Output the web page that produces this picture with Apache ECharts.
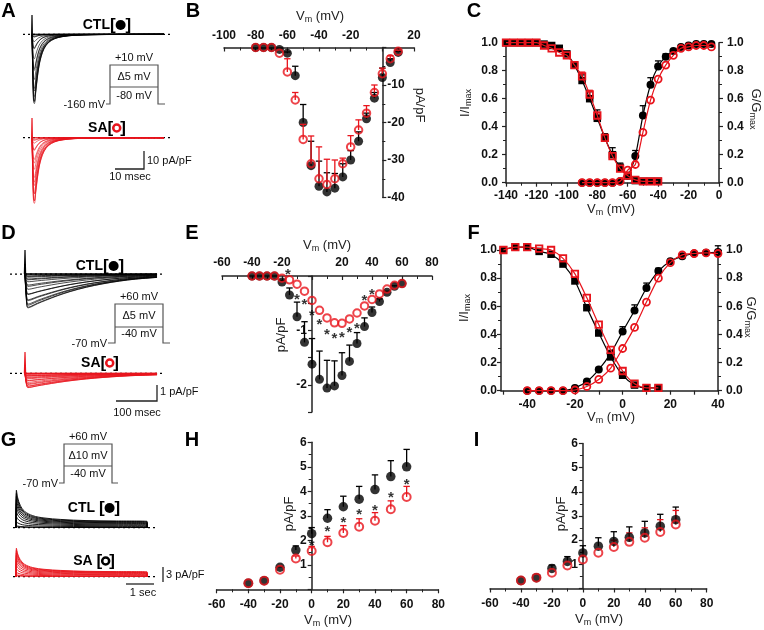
<!DOCTYPE html>
<html><head><meta charset="utf-8">
<script src="https://cdn.jsdelivr.net/npm/echarts@6.0.0/dist/echarts.min.js"></script>
<style>html,body{margin:0;padding:0;background:#fff}#c{width:764px;height:630px}</style>
</head><body><div id="c"></div>
<script>
const FONT = '"Liberation Sans", Arial, Helvetica, sans-serif';
const RED = '#e8141c';
const BLK = '#000000';

// ---------- Panel B: peak I–V (pA/pF) ----------
const vB = [-80,-75,-70,-65,-60,-55,-50,-45,-40,-35,-30,-25,-20,-15,-10,-5,0,5,10];
const ctlB = [0,0,0,-0.5,-1.5,-7.5,-20,-31.5,-37,-38.5,-37.5,-34.5,-30,-25,-19,-13.5,-8,-4,-1.3];
const semCtlB = [0,0,0,0,0.3,2.5,4.8,6.5,6.7,5.1,3.9,3.5,2.5,2.5,1.5,1.5,2.5,1,0.3];
const saB = [0,0,0,-1.5,-6.5,-14,-24.5,-31,-35,-36.5,-35,-31,-26.5,-22,-17.5,-12,-7,-3,-1];
const semSaB = [0,0,0,0,3.5,2,4,7.4,8.5,6.7,5,1.5,3,2.7,2,2,1.5,0.8,0.3];

// ---------- Panel C: inactivation (I/Imax) & activation (G/Gmax) ----------
const vCi = [-140,-135,-130,-125,-120,-115,-110,-105,-100,-95,-90,-85,-80,-75,-70,-65,-60,-55,-50,-45,-40];
const ctlCi = [1.0,1.0,1.0,1.0,1.0,0.99,0.98,0.96,0.92,0.84,0.73,0.60,0.46,0.32,0.20,0.11,0.05,0.015,0.01,0.01,0.01];
const semCtlCi = [0,0,0,0,0,0,0,0,0.01,0.02,0.04,0.05,0.06,0.03,0.05,0.03,0,0,0,0,0];
const saCi = [1.0,1.0,1.0,1.0,1.0,0.98,0.96,0.93,0.91,0.84,0.76,0.63,0.48,0.32,0.19,0.10,0.05,0.02,0.01,0.01,0.01];
const semSaCi = [0,0,0,0,0,0,0,0,0,0.01,0.03,0.03,0.01,0.01,0,0,0,0,0,0,0];
const vCa = [-90,-85,-80,-75,-70,-65,-60,-55,-50,-45,-40,-35,-30,-25,-20,-15,-10,-5];
const ctlCa = [0,0,0,0,0,0.01,0.05,0.19,0.48,0.70,0.83,0.90,0.94,0.97,0.98,0.99,0.99,0.99];
const semCtlCa = [0,0,0,0,0,0,0,0.04,0.07,0.05,0.04,0.02,0.01,0,0,0,0,0];
const saCa = [0,0,0,0,0,0.01,0.09,0.13,0.36,0.59,0.74,0.84,0.91,0.96,0.97,0.98,0.98,0.97];

// ---------- Panel E: peak I–V (pA/pF) ----------
const vE = [-40,-35,-30,-25,-20,-15,-10,-5,0,5,10,15,20,25,30,35,40,45,50,55,60];
const ctlE = [0,0,0,0,-0.11,-0.35,-0.75,-1.22,-1.62,-1.9,-2.06,-2.02,-1.83,-1.57,-1.24,-0.93,-0.67,-0.47,-0.3,-0.19,-0.14];
const semCtlE = [0,0,0,0,0.03,0.13,0.27,0.38,0.47,0.52,0.51,0.46,0.42,0.3,0.2,0.16,0.1,0.05,0.02,0.01,0];
const saE = [0,0,0,0,-0.04,-0.07,-0.15,-0.28,-0.45,-0.63,-0.77,-0.86,-0.87,-0.79,-0.68,-0.55,-0.43,-0.33,-0.24,-0.17,-0.14];
const starsE = [[-16,0.1],[-10,-0.36],[-5,-0.45],[0,-0.66],[5,-0.82],[10,-1.0],[15,-1.09],[20,-1.07],[25,-0.98],[30,-0.89],[35,-0.38],[40,-0.28]];

// ---------- Panel F ----------
const vFi = [-50,-45,-40,-35,-30,-25,-20,-15,-10,-5,0,5,10,15];
const ctlFi = [1.0,1.02,1.02,0.99,0.97,0.90,0.78,0.59,0.41,0.24,0.11,0.04,0.02,0.02];
const saFi = [1.0,1.02,1.02,1.01,1.0,0.94,0.83,0.66,0.47,0.29,0.14,0.05,0.02,0.02];
const vFa = [-40,-35,-30,-25,-20,-15,-10,-5,0,5,10,15,20,25,30,35,40];
const ctlFa = [0,0,0,0,0.02,0.065,0.15,0.265,0.42,0.57,0.73,0.85,0.92,0.955,0.975,0.98,0.985];
const semCtlFa = [0,0,0,0,0,0,0.01,0.02,0.035,0.04,0.035,0.02,0,0,0,0,0.045];
const saFa = [0,0,0,0,0.005,0.03,0.08,0.16,0.30,0.45,0.63,0.80,0.91,0.965,0.975,0.98,0.975];
const ticksFx = [-40,-20,0,20,40];

// ---------- Panels H, I ----------
const vH = [-40,-30,-20,-10,0,10,20,30,40,50,60];
const ctlH = [0.25,0.35,0.9,1.6,2.27,2.9,3.37,3.68,4.07,4.6,5.0];
const semCtlH = [0,0,0.02,0.17,0.25,0.35,0.43,0.52,0.6,0.65,0.71];
const saH = [0.25,0.35,0.8,1.26,1.56,1.92,2.3,2.55,2.8,3.27,3.77];
const semSaH = [0,0,0,0.1,0.19,0.24,0.3,0.33,0.33,0.34,0.43];
const starsH = [[0,1.95],[10,2.49],[20,2.86],[30,3.2],[40,3.37],[50,3.88],[60,4.42]];
const ctlI = [0.33,0.45,0.83,1.12,1.47,1.75,1.95,2.12,2.3,2.58,2.85];
const semCtlI = [0,0,0.14,0.2,0.3,0.35,0.4,0.43,0.48,0.49,0.52];
const saI = [0.33,0.45,0.65,0.95,1.2,1.48,1.72,1.93,2.1,2.34,2.65];
const semSaI = [0,0,0,0,0,0,0.28,0.37,0.41,0.51,0.58];

// ---------- Current traces (A, D, G) ----------
const tA0 = 3.0;
const shapeAT = [0,0.25,0.5,0.8,1.2,1.7,2.3,3.0,4.0,5.5,7.5,10,14,20,30,44];
const shapeAF = [0,0.55,0.97,1.0,0.86,0.66,0.47,0.33,0.21,0.12,0.065,0.035,0.015,0.006,0.002,0];
const spikeA = {ctl: 10.7, sa: 10.9};
const baseA = [0, 49];
const tD0 = 36.6;
const shapeDT = [0,3,7,15,30,50,80,110,150,190,230,270,322];
const shapeDF = [0,0.7,1.0,0.97,0.88,0.78,0.64,0.52,0.39,0.29,0.21,0.15,0.1];
const spikeD = {ctl: 1.46, sa: 1.3};
const baseD = [0, 373];
const tG0 = 0.107;
const shapeGT = [0,0.015,0.06,0.15,0.3,0.6,1.0,1.6,2.5,3.5,4.68,4.69];
const shapeGF = [0,1.0,0.8,0.6,0.44,0.32,0.26,0.22,0.19,0.18,0.17,0];
const ampGctl = [0.2,0.4,1.2,2.2,3.2,4.1,4.9,5.6,6.3,6.9,7.5];
const ampGsa = [0.2,0.4,0.9,1.6,2.3,3.0,3.7,4.3,4.8,5.3,5.7];
const baseG = [0, 5.14];

// ================= build =================
const pairs = (xs, ys) => xs.map((x, i) => [x, ys[i]]);
const grids = [
  {left:224, top:47.5, width:190, height:150},      // 0 B
  {left:506, top:42.7, width:213, height:140},      // 1 C
  {left:222, top:276, width:210, height:136},       // 2 E
  {left:501, top:250, width:217, height:140.7},     // 3 F
  {left:216.7, top:442.3, width:221.6, height:147}, // 4 H
  {left:490, top:443.5, width:216.7, height:145},   // 5 I
  {left:23, top:10, width:147, height:99},          // 6 A ctl
  {left:23, top:113.4, width:147, height:99},       // 7 A sa
  {left:10, top:247.8, width:153, height:64},       // 8 D ctl
  {left:10, top:347.1, width:153, height:64},       // 9 D sa
  {left:13, top:485.2, width:152, height:50.5},     // 10 G ctl
  {left:13, top:534.2, width:152, height:50.5}      // 11 G sa
].map(g => Object.assign({containLabel:false, outerBoundsMode:'none'}, g));

const LINE = {show:true, onZero:false, lineStyle:{color:'#222', width:1.5}};
const TICK = (inside) => ({show:true, inside:!!inside, length:4, lineStyle:{color:'#222', width:1.2}});
const MINOR = {show:true, splitNumber:2, length:3, lineStyle:{color:'#222', width:1}};
const LAB = (fmt, margin) => ({show:true, fontSize:12, fontWeight:'bold', color:'#111', fontFamily:FONT, margin:margin, formatter:fmt, showMinLabel:true, showMaxLabel:true});
const noZero = v => (v === 0 ? '' : String(v));
const oneDec = v => v.toFixed(1);
const hidden = (g, min, max) => ({gridIndex:g, type:'value', min:min, max:max, show:false});
const zeroOff = (g, min, max, side) => {
  const gr = grids[g], px = gr.width * (0 - min) / (max - min);
  return side === 'left' ? -px : -(gr.width - px);
};

const xAxis = [
  {gridIndex:0, type:'value', min:-100, max:20, interval:20, position:'top', axisLine:LINE, axisTick:TICK(true), minorTick:MINOR, axisLabel:LAB(noZero,6), splitLine:{show:false}},
  {gridIndex:1, type:'value', min:-140, max:0, interval:20, position:'bottom', axisLine:LINE, axisTick:TICK(false), minorTick:MINOR, axisLabel:LAB(null,7), splitLine:{show:false}},
  {gridIndex:2, type:'value', min:-60, max:80, interval:20, position:'top', axisLine:LINE, axisTick:TICK(true), minorTick:MINOR, axisLabel:LAB(noZero,7), splitLine:{show:false}},
  {gridIndex:3, type:'value', min:-51, max:40, position:'bottom', axisLine:LINE,
    axisTick:Object.assign(TICK(false), {customValues:[-50,-40,-30,-20,-10,0,10,20,30,40]}),
    axisLabel:{show:false}, splitLine:{show:false}},
  {gridIndex:4, type:'value', min:-60, max:80, interval:20, position:'bottom', axisLine:LINE, axisTick:TICK(false), minorTick:MINOR, axisLabel:LAB(null,9), splitLine:{show:false}},
  {gridIndex:5, type:'value', min:-60, max:80, interval:20, position:'bottom', axisLine:LINE, axisTick:TICK(false), minorTick:MINOR, axisLabel:LAB(null,9), splitLine:{show:false}},
  hidden(6, 0, 49), hidden(7, 0, 49),
  hidden(8, 0, 373.17), hidden(9, 0, 373.17),
  hidden(10, 0, 5.4286), hidden(11, 0, 5.4286)
];
const yAxis = [
  {gridIndex:0, type:'value', min:-40, max:0, interval:10, position:'right', offset:zeroOff(0,-100,20,'right'), axisLine:LINE, axisTick:TICK(false), minorTick:MINOR, axisLabel:LAB(noZero,5), splitLine:{show:false}},
  {gridIndex:1, type:'value', min:0, max:1, interval:0.2, position:'left', axisLine:LINE, axisTick:TICK(false), minorTick:MINOR, axisLabel:LAB(oneDec,8), splitLine:{show:false}},
  {gridIndex:2, type:'value', min:-2.5, max:0, interval:0.5, position:'left', offset:zeroOff(2,-60,80,'left'), axisLine:LINE, axisTick:TICK(false), axisLabel:LAB(v => (v === -1 || v === -2) ? String(v) : '', 5), splitLine:{show:false}},
  {gridIndex:3, type:'value', min:0, max:1, interval:0.2, position:'left', axisLine:LINE, axisTick:TICK(false), minorTick:MINOR, axisLabel:LAB(oneDec,4), splitLine:{show:false}},
  {gridIndex:4, type:'value', min:0, max:6, interval:1, position:'left', offset:zeroOff(4,-60,80,'left'), axisLine:LINE, axisTick:TICK(false), minorTick:MINOR, axisLabel:LAB(noZero,5), splitLine:{show:false}},
  {gridIndex:5, type:'value', min:0, max:6, interval:1, position:'left', offset:zeroOff(5,-60,80,'left'), axisLine:LINE, axisTick:TICK(false), minorTick:MINOR, axisLabel:LAB(noZero,5), splitLine:{show:false}},
  hidden(6, -41.5, 13.5), hidden(7, -41.5, 13.5),
  hidden(8, -2.3, 1.6), hidden(9, -2.3, 1.6),
  hidden(10, -1.6, 8.5), hidden(11, -1.6, 8.5),
  {gridIndex:1, type:'value', min:0, max:1, interval:0.2, position:'right', axisLine:LINE, axisTick:TICK(false), minorTick:MINOR, axisLabel:LAB(oneDec,8), splitLine:{show:false}},  // 12 C right
  {gridIndex:3, type:'value', min:0, max:1, interval:0.2, position:'right', axisLine:LINE, axisTick:TICK(false), minorTick:MINOR, axisLabel:LAB(oneDec,8), splitLine:{show:false}}   // 13 F right
];

const series = [];
function err(xi, yi, xs, ys, sems, color, z) {
  const data = [];
  xs.forEach((x, i) => { if (sems[i] > 0) data.push([x, ys[i], ys[i] + sems[i]]); });
  series.push({
    type:'custom', xAxisIndex:xi, yAxisIndex:yi, z:z, silent:true, data:data, clip:false,
    encode:{x:0, y:1},
    renderItem:(params, api) => {
      const p0 = api.coord([api.value(0), api.value(1)]);
      const p1 = api.coord([api.value(0), api.value(2)]);
      const st = {stroke:color, lineWidth:1.3};
      return {type:'group', children:[
        {type:'line', shape:{x1:p0[0], y1:p0[1], x2:p1[0], y2:p1[1]}, style:st},
        {type:'line', shape:{x1:p1[0]-3.2, y1:p1[1], x2:p1[0]+3.2, y2:p1[1]}, style:st}
      ]};
    }
  });
}
function dots(xi, yi, xs, ys, size, z) {
  series.push({type:'scatter', xAxisIndex:xi, yAxisIndex:yi, z:z, silent:true, clip:false, data:pairs(xs, ys),
    symbol:'circle', symbolSize:size, itemStyle:{color:BLK}});
}
function rings(xi, yi, xs, ys, size, z) {
  series.push({type:'scatter', xAxisIndex:xi, yAxisIndex:yi, z:z, silent:true, clip:false, data:pairs(xs, ys),
    symbol:'circle', symbolSize:size, itemStyle:{color:'rgba(0,0,0,0)', borderColor:RED, borderWidth:2}});
}
function fitLine(xi, yi, xs, ys, color, sym, filled, size, z) {
  series.push({type:'line', xAxisIndex:xi, yAxisIndex:yi, z:z, silent:true, clip:false, data:pairs(xs, ys),
    symbol:sym, symbolSize:size, showSymbol:true, smooth:0.25,
    lineStyle:{color:color, width:1.2},
    itemStyle: filled ? {color:color} : {color:'rgba(0,0,0,0)', borderColor:color, borderWidth:1.8}});
}
function stars(xi, yi, pts, size) {
  series.push({type:'scatter', xAxisIndex:xi, yAxisIndex:yi, z:6, silent:true, clip:false, data:pts,
    symbol:'circle', symbolSize:1, itemStyle:{color:'rgba(0,0,0,0)'},
    label:{show:true, position:'inside', formatter:'*', fontSize:size, fontWeight:'bold', color:'#000', fontFamily:FONT, offset:[0, 4]}});
}
function traces(gi, t0, shT, shF, peaks, color, lw) {
  peaks.forEach(p => series.push({type:'line', xAxisIndex:gi, yAxisIndex:gi, z:3, silent:true,
    data: shT.map((t, k) => [t0 + t, p * shF[k]]), showSymbol:false, symbol:'none', smooth:0.35,
    lineStyle:{color:color, width:lw}}));
}
function baseline(gi, range) {
  series.push({type:'line', xAxisIndex:gi, yAxisIndex:gi, z:2, silent:true, data:[[range[0],0],[range[1],0]],
    showSymbol:false, symbol:'none', lineStyle:{color:'#000', width:1.3, type:[2,3]}});
}
function spike(gi, t0, h, dt, color) {
  series.push({type:'line', xAxisIndex:gi, yAxisIndex:gi, z:4, silent:true,
    data:[[t0 - dt, 0],[t0, h],[t0 + dt, 0]], showSymbol:false, symbol:'none', lineStyle:{color:color, width:1.2}});
}

// B
err(0,0, vB, ctlB, semCtlB, BLK, 3); dots(0,0, vB, ctlB, 9, 4);
err(0,0, vB, saB, semSaB, RED, 5); rings(0,0, vB, saB, 7.5, 6);
// C
err(1,1, vCi, ctlCi, semCtlCi, BLK, 3); err(1,1, vCi, saCi, semSaCi, RED, 3);
err(1,12, vCa, ctlCa, semCtlCa, BLK, 3);
fitLine(1,1, vCi, ctlCi, BLK, 'rect', true, 7.5, 4);
fitLine(1,1, vCi, saCi, RED, 'rect', false, 6.5, 5);
fitLine(1,12, vCa, ctlCa, BLK, 'circle', true, 8, 4);
fitLine(1,12, vCa, saCa, RED, 'circle', false, 7, 5);
// E
err(2,2, vE, ctlE, semCtlE, BLK, 3); dots(2,2, vE, ctlE, 9, 4);
rings(2,2, vE, saE, 7.5, 6); stars(2,2, starsE, 15);
// F
err(3,13, vFa, ctlFa, semCtlFa, BLK, 3);
fitLine(3,3, vFi, ctlFi, BLK, 'rect', true, 7.5, 4);
fitLine(3,3, vFi, saFi, RED, 'rect', false, 6.5, 5);
fitLine(3,13, vFa, ctlFa, BLK, 'circle', true, 8, 4);
fitLine(3,13, vFa, saFa, RED, 'circle', false, 7, 5);
// H
err(4,4, vH, ctlH, semCtlH, BLK, 3); dots(4,4, vH, ctlH, 9.5, 4);
err(4,4, vH, saH, semSaH, RED, 5); rings(4,4, vH, saH, 8, 6); stars(4,4, starsH, 15);
// I
err(5,5, vH, ctlI, semCtlI, BLK, 3); err(5,5, vH, saI, semSaI, RED, 3);
dots(5,5, vH, ctlI, 9.5, 4); rings(5,5, vH, saI, 8, 6);
// A
baseline(6, baseA); traces(6, tA0, shapeAT, shapeAF, ctlB, BLK, 0.6); spike(6, tA0, spikeA.ctl, 0.12, BLK);
baseline(7, baseA); traces(7, tA0, shapeAT, shapeAF, saB, RED, 0.6); spike(7, tA0, spikeA.sa, 0.12, RED);
// D
baseline(8, baseD); traces(8, tD0, shapeDT, shapeDF, ctlE, BLK, 0.7); spike(8, tD0, spikeD.ctl, 1.5, BLK);
baseline(9, baseD); traces(9, tD0, shapeDT, shapeDF, saE, RED, 0.7); spike(9, tD0, spikeD.sa, 1.5, RED);
// G
baseline(10, baseG); traces(10, tG0, shapeGT, shapeGF, ampGctl, BLK, 0.9);
baseline(11, baseG); traces(11, tG0, shapeGT, shapeGF, ampGsa, RED, 0.9);

// ---------- graphic annotations ----------
const G = [];
function txt(x, y, text, o) {
  o = o || {};
  G.push({type:'text', x:x, y:y, rotation:o.rot || 0, z:100, silent:true,
    style:Object.assign({text:text, fill:o.color || '#111', fontSize:o.size || 11, fontWeight:o.weight || 'normal',
      fontFamily:FONT, align:o.align || 'center', verticalAlign:o.va || 'middle'}, o.rich ? {rich:o.rich} : {})});
}
function poly(points, color, w) {
  G.push({type:'polyline', z:100, silent:true, shape:{points:points}, style:{stroke:color || '#555', lineWidth:w || 1.2, fill:null}});
}
const letters = [['A',8.5,11.5],['B',193,11.5],['C',474,11],['D',8.5,233.5],['E',192,233.5],['F',473.5,233.5],['G',8.5,440],['H',192,440],['I',476.5,440]];
letters.forEach(l => txt(l[1], l[2], l[0], {size:20, weight:'bold', color:'#000'}));

const sub = {v:{fontSize:13, fontFamily:FONT, fill:'#222'}, s:{fontSize:9, fontFamily:FONT, fill:'#222', padding:[7,0,0,0]}};
const VM = '{v|V}{s|m}{v| (mV)}';
txt(320, 16, VM, {rich:sub}); txt(611, 209, VM, {rich:sub}); txt(327, 245, VM, {rich:sub});
txt(611, 417, VM, {rich:sub}); txt(328, 620, VM, {rich:sub}); txt(599, 619, VM, {rich:sub});
const PA = {size:13, color:'#222'};
txt(420, 105, 'pA/pF', Object.assign({rot:-Math.PI/2}, PA));
txt(281, 335, 'pA/pF', Object.assign({rot:Math.PI/2}, PA));
txt(289, 514, 'pA/pF', Object.assign({rot:Math.PI/2}, PA));
txt(561, 514, 'pA/pF', Object.assign({rot:Math.PI/2}, PA));
txt(465, 103, '{v|I/I}{s|max}', {rot:Math.PI/2, rich:sub});
txt(756, 109, '{v|G/G}{s|max}', {rot:-Math.PI/2, rich:sub});
txt(464, 308, '{v|I/I}{s|max}', {rot:Math.PI/2, rich:sub});
txt(751, 317, '{v|G/G}{s|max}', {rot:-Math.PI/2, rich:sub});

const lab = {
  t:{fontSize:14, fontWeight:'bold', fontFamily:FONT, fill:'#000'},
  b:{fontSize:17, fontWeight:'bold', fontFamily:FONT, fill:'#000'},
  dot:{width:10, height:10, backgroundColor:'#000', borderRadius:5},
  ring:{width:7, height:7, borderColor:RED, borderWidth:2.5, borderRadius:6},
  ringk:{width:7, height:7, borderColor:'#000', borderWidth:2.5, borderRadius:6}
};
txt(107, 25, '{t|CTL}{b|[}{dot| }{b|]}', {rich:lab});
txt(107, 128, '{t|SA}{b|[}{ring| }{b|]}', {rich:lab});
txt(100, 266, '{t|CTL}{b|[}{dot| }{b|]}', {rich:lab});
txt(100, 363, '{t|SA}{b|[}{ring| }{b|]}', {rich:lab});
txt(94, 508, '{t|CTL }{b|[}{dot| }{b|]}', {rich:lab});
txt(94, 561, '{t|SA }{b|[}{ringk| }{b|]}', {rich:lab});

// voltage protocols
poly([[106,104],[110,104],[110,65],[158,65],[158,104],[165,104]]); poly([[110,87],[158,87]]);
txt(134,58,'+10 mV'); txt(134,77,'\u03945 mV'); txt(134,96,'-80 mV'); txt(105,105,'-160 mV',{align:'right'});
poly([[108,343],[115,343],[115,304],[163,304],[163,343],[170,343]]); poly([[115,327],[163,327]]);
txt(139,297,'+60 mV'); txt(139,316,'\u03945 mV'); txt(139,334,'-40 mV'); txt(107,344,'-70 mV',{align:'right'});
poly([[59,483],[64,483],[64,444],[112,444],[112,483],[118,483]]); poly([[64,466],[112,466]]);
txt(88,437,'+60 mV'); txt(88,456,'\u039410 mV'); txt(88,474,'-40 mV'); txt(58,484,'-70 mV',{align:'right'});

// scale bars
poly([[115,169],[144,169],[144,151]], '#222', 1.3); txt(147,161,'10 pA/pF',{align:'left'}); txt(130,177,'10 msec');
poly([[116,401],[157,401],[157,385]], '#222', 1.3); txt(160,392,'1 pA/pF',{align:'left'}); txt(137,413,'100 msec');
poly([[163,567],[163,582]], '#222', 1.3); txt(166,575,'3 pA/pF',{align:'left'});
poly([[126,584],[154,584]], '#222', 1.3); txt(143,593,'1 sec');

const chart = echarts.init(document.getElementById('c'), null, {renderer:'canvas'});
chart.setOption({
  animation:false, backgroundColor:'#fff',
  textStyle:{fontFamily:FONT},
  grid:grids, xAxis:xAxis, yAxis:yAxis, series:series, graphic:G
});
// F x-axis tick labels, placed through the axis scale
const fy = grids[3].top + grids[3].height + 8;
ticksFx.forEach(v => {
  const px = chart.convertToPixel({xAxisIndex:3}, v);
  txt(px, fy, String(v), {size:12, weight:'bold', color:'#111', va:'top'});
});
chart.setOption({graphic:G});
</script></body></html>
